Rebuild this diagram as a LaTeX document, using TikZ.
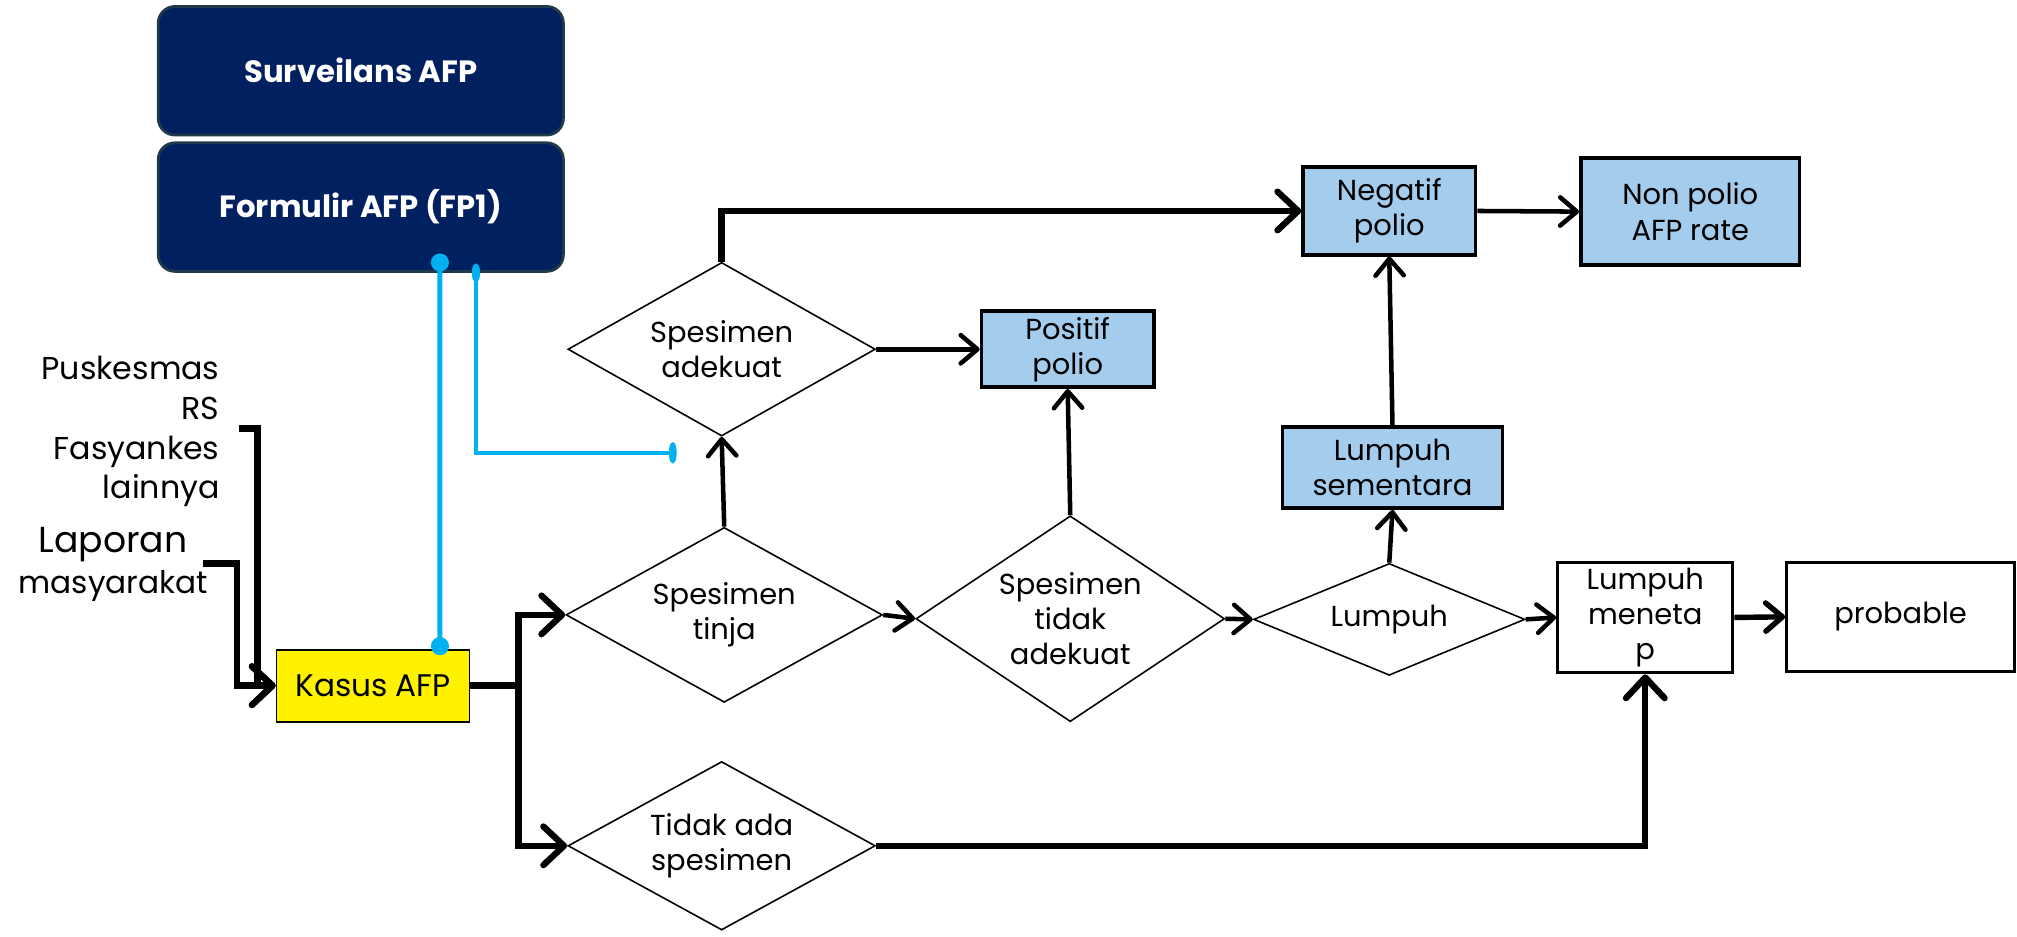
\documentclass[tikz,border=0pt]{standalone}
\usepackage{fontspec}
\setmainfont{Poppins}
\usetikzlibrary{arrows.meta,shapes.geometric,positioning}
\definecolor{navy}{RGB}{0,32,96}
\definecolor{navyline}{RGB}{32,58,74}
\definecolor{hasilblue}{RGB}{164,204,237}
\definecolor{cyanline}{RGB}{0,176,240}
\tikzset{
  head/.style={draw=navyline, line width=1.2pt, fill=navy, rounded corners=2.6mm, text=white,
               font=\fontsize{13.6}{16}\selectfont\bfseries, minimum width=63mm, minimum height=20mm},
  hasil/.style={draw, line width=1.6pt, fill=hasilblue, align=center, inner sep=0pt,
                font=\fontsize{12.8}{15.5}\selectfont},
  akhir/.style={hasil, fill=white, line width=1.4pt},
  cek/.style={draw, diamond, line width=0.7pt, inner sep=0pt},
  txt/.style={align=center, font=\fontsize{12.8}{15.5}\selectfont},
  arr/.style={-{Straight Barb[length=2.6mm,width=4.4mm,round]}, line width=2pt},
  arrbig/.style={-{Straight Barb[length=3.2mm,width=6mm,round]}, line width=2.8pt},
  link/.style={draw=cyanline, line width=2.2pt}
}

\begin{document}
\begin{tikzpicture}[x=0.2mm, y=-0.2mm]
  \useasboundingbox (0,0) rectangle (1568,728);

  \node[head] (surv) at (280.5,55) {Surveilans AFP};
  \node[head] (fp1) at (280.5,161) {Formulir AFP (FP1)};
  \node[draw, line width=0.8pt, fill=yellow, minimum width=30mm, minimum height=11.2mm,
        font=\fontsize{13.8}{16}\selectfont] (kasus) at (290,533) {Kasus AFP};
  \node[align=right, anchor=east, inner sep=0pt, font=\fontsize{14}{17.6}\selectfont] (faskes) at (171,335.5)
       {Puskesmas\\RS\\Fasyankes\\lainnya};
  \node[align=center, inner sep=0pt, font=\fontsize{13.8}{18}\selectfont] (lapor) at (88,439)
       {{\fontsize{16}{18}\selectfont Laporan}\\masyarakat};

  \node[cek, minimum width=47.8mm, minimum height=27mm, label={[txt]center:{Spesimen\\adekuat}}] (adekuat) at (561,271.5) {};
  \node[cek, minimum width=49.2mm, minimum height=27.2mm, label={[txt]center:{Spesimen\\tinja}}] (tinja) at (563,478) {};
  \node[cek, minimum width=48mm, minimum height=32mm, label={[txt]center:{Spesimen\\tidak\\adekuat}}] (tidak) at (832,481) {};
  \node[cek, minimum width=42.2mm, minimum height=17.4mm, label={[txt]center:Lumpuh}] (lumpuh) at (1080,481.5) {};
  \node[cek, minimum width=47.8mm, minimum height=26.2mm, label={[txt]center:{Tidak ada\\spesimen}}] (nospes) at (561,657.5) {};

  \node[hasil, minimum width=26.8mm, minimum height=11.8mm] (positif) at (830,271.5) {Positif\\polio};
  \node[hasil, minimum width=26.8mm, minimum height=13.6mm] (negatif) at (1080,164) {Negatif\\polio};
  \node[hasil, minimum width=34mm, minimum height=16.6mm] (nonpolio) at (1314,164.5) {Non polio\\AFP rate};
  \node[hasil, minimum width=34.2mm, minimum height=12.6mm] (sementara) at (1082.5,363.5) {Lumpuh\\sementara};
  \node[akhir, minimum width=27.2mm, minimum height=17.2mm] (menetap) at (1279,480) {Lumpuh\\meneta\\p};
  \node[akhir, minimum width=35.4mm, minimum height=17mm] (probable) at (1477.5,479.5) {probable};

  \coordinate (srcA) at (186,333);
  \coordinate (srcB) at (158,438);
  \coordinate (split) at (403,533);
  \coordinate (ujung) at (526,352);

  \draw[arrbig] (srcA) -| ([xshift=-2.8mm]kasus.west) -- (kasus.west);
  \draw[arrbig] (srcB) -| ([xshift=-6mm]kasus.west) -- (kasus.west);
  \draw[arrbig] (kasus.east) -- (split) |- (tinja.west);
  \draw[arrbig] (split) |- (nospes.west);
  \draw[arr] (tinja.north) -- (adekuat.south);
  \draw[arrbig] (adekuat.north) |- (negatif.west);
  \draw[arr] (adekuat.east) -- (positif.west);
  \draw[arr] (tinja.east) -- (tidak.west);
  \draw[arr] (tidak.north) -- (positif.south);
  \draw[arr] (tidak.east) -- (lumpuh.west);
  \draw[arr] (lumpuh.north) -- (sementara.south);
  \draw[arr] (sementara.north) -- (negatif.south);
  \draw[arr] (negatif.east) -- (nonpolio.west);
  \draw[arr] (lumpuh.east) -- (menetap.west);
  \draw[arr, line width=2.4pt] (menetap.east) -- (probable.west);
  \draw[arrbig] (nospes.east) -| (menetap.south);

  \draw[link, {Circle[length=2.8mm]}-{Circle[length=2.8mm]}, shorten <=-3mm, shorten >=-1mm]
       ([xshift=12.3mm]fp1.south) -- ([xshift=10.4mm]kasus.north);
  \draw[link, line width=1.7pt, {Ellipse[length=2.8mm,width=1.3mm]}-{Ellipse[length=1.2mm,width=3.2mm]}, shorten <=-1.4mm]
       ([xshift=17.9mm]fp1.south) |- (ujung);
\end{tikzpicture}
\end{document}
